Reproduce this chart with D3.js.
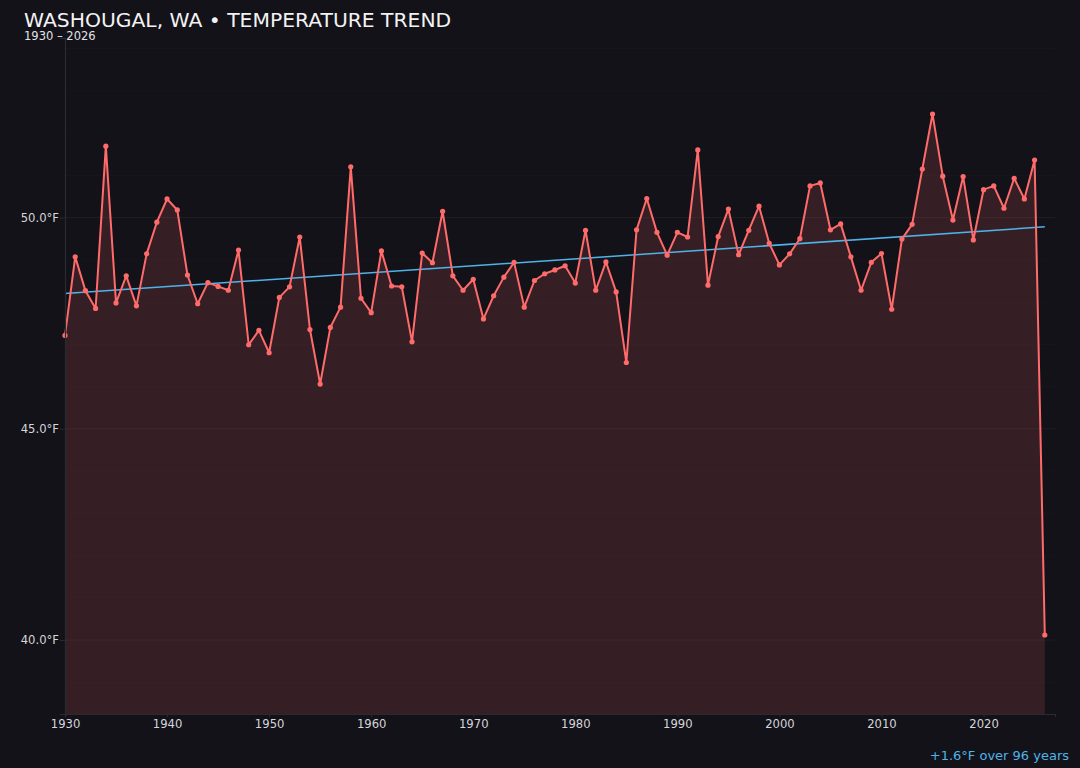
<!DOCTYPE html>
<html>
<head>
<meta charset="utf-8">
<script src="https://cdn.jsdelivr.net/npm/d3@7"></script>
<style>
  html, body { margin: 0; padding: 0; background: #131218; }
  svg { display: block; font-family: "DejaVu Sans", sans-serif; }
</style>
</head>
<body>
<div class="chart"></div>
<script>
// Annual mean temperature, Washougal WA (°F)
const years = [
  1930, 1931, 1932, 1933, 1934, 1935, 1936, 1937, 1938, 1939,
  1940, 1941, 1942, 1943, 1944, 1945, 1946, 1947, 1948, 1949,
  1950, 1951, 1952, 1953, 1954, 1955, 1956, 1957, 1958, 1959,
  1960, 1961, 1962, 1963, 1964, 1965, 1966, 1967, 1968, 1969,
  1970, 1971, 1972, 1973, 1974, 1975, 1976, 1977, 1978, 1979,
  1980, 1981, 1982, 1983, 1984, 1985, 1986, 1987, 1988, 1989,
  1990, 1991, 1992, 1993, 1994, 1995, 1996, 1997, 1998, 1999,
  2000, 2001, 2002, 2003, 2004, 2005, 2006, 2007, 2008, 2009,
  2010, 2011, 2012, 2013, 2014, 2015, 2016, 2017, 2018, 2019,
  2020, 2021, 2022, 2023, 2024, 2025, 2026
];
const temps = [
  47.21, 49.07, 48.27, 47.85, 51.69, 47.98, 48.62, 47.91, 49.14, 49.89,
  50.44, 50.18, 48.64, 47.96, 48.46, 48.37, 48.28, 49.23, 46.99, 47.33,
  46.80, 48.11, 48.36, 49.54, 47.35, 46.06, 47.40, 47.88, 51.20, 48.09,
  47.75, 49.21, 48.38, 48.36, 47.06, 49.16, 48.93, 50.15, 48.62, 48.28,
  48.54, 47.60, 48.15, 48.59, 48.94, 47.88, 48.51, 48.67, 48.76, 48.86,
  48.45, 49.70, 48.28, 48.95, 48.24, 46.57, 49.71, 50.45, 49.65, 49.11,
  49.65, 49.54, 51.60, 48.40, 49.55, 50.20, 49.12, 49.70, 50.27, 49.39,
  48.88, 49.14, 49.50, 50.75, 50.82, 49.71, 49.85, 49.07, 48.28, 48.94,
  49.15, 47.83, 49.49, 49.84, 51.15, 52.45, 50.98, 49.94, 50.97, 49.47,
  50.66, 50.75, 50.22, 50.93, 50.44, 51.36, 40.12
];
// Trend line end points (first year, last year)
const trendYears = [1930, 2026];
const trendTemps = [48.20, 49.78];

const yTicks = [40, 45, 50];
const xTicks = [1930, 1940, 1950, 1960, 1970, 1980, 1990, 2000, 2010, 2020];
const gridValues = [39, 40, 41, 42, 43, 44, 45, 46, 47, 48, 49, 50, 51, 52, 53, 54];

const titleText = "WASHOUGAL, WA • TEMPERATURE TREND";
const subtitleText = "1930 – 2026";
const noteText = "+1.6°F over 96 years";

const W = 1080, H = 768;
const margin = { top: 38, right: 25, bottom: 54, left: 65 };
const width = W - margin.left - margin.right;
const height = H - margin.top - margin.bottom;

const lineColor = "#ff6b6b";
const trendColor = "#4fb3ea";

const data = years.map((y, i) => ({ year: y, temp: temps[i] }));
const trend = trendYears.map((y, i) => ({ year: y, temp: trendTemps[i] }));

const svg = d3.select(".chart")
  .append("svg")
  .attr("width", W)
  .attr("height", H);

svg.append("rect")
  .attr("width", W)
  .attr("height", H)
  .attr("fill", "#131218");

const g = svg.append("g")
  .attr("transform", `translate(${margin.left},${margin.top})`);

// Scales
const x = d3.scaleLinear()
  .domain([1930, 2027])
  .range([0, width]);

const y = d3.scaleLinear()
  .domain([38.25, 54.25])
  .range([height, 0]);

// Grid lines, one per degree, a bit brighter on the labelled ones
g.append("g")
  .selectAll("line")
  .data(gridValues)
  .enter()
  .append("line")
  .attr("x1", 0)
  .attr("x2", width)
  .attr("y1", d => y(d))
  .attr("y2", d => y(d))
  .attr("stroke", "#ffffff")
  .attr("stroke-opacity", d => yTicks.includes(d) ? 0.05 : 0.02);

// Area under the line
const area = d3.area()
  .x(d => x(d.year))
  .y0(height)
  .y1(d => y(d.temp));

g.append("path")
  .datum(data)
  .attr("d", area)
  .attr("fill", lineColor)
  .attr("fill-opacity", 0.15);

// Trend line
const line = d3.line()
  .x(d => x(d.year))
  .y(d => y(d.temp));

g.append("path")
  .datum(trend)
  .attr("d", line)
  .attr("fill", "none")
  .attr("stroke", trendColor)
  .attr("stroke-width", 1.5);

// Temperature line + dots
g.append("path")
  .datum(data)
  .attr("d", line)
  .attr("fill", "none")
  .attr("stroke", lineColor)
  .attr("stroke-width", 2)
  .attr("stroke-linejoin", "round");

g.append("g")
  .selectAll("circle")
  .data(data)
  .enter()
  .append("circle")
  .attr("cx", d => x(d.year))
  .attr("cy", d => y(d.temp))
  .attr("r", 2.6)
  .attr("fill", lineColor);

// Axes
const xAxis = d3.axisBottom(x)
  .tickValues(xTicks)
  .tickFormat(d3.format("d"))
  .tickSize(3)
  .tickPadding(3);

const gx = g.append("g")
  .attr("transform", `translate(0,${height})`)
  .call(xAxis);

const yAxis = d3.axisLeft(y)
  .tickValues(yTicks)
  .tickFormat(d => d.toFixed(1) + "°F")
  .tickSize(5)
  .tickPadding(1);

const gy = g.append("g").call(yAxis);

[gx, gy].forEach(ax => {
  ax.select(".domain").attr("stroke", "#2a2a31").attr("stroke-width", 1.2);
  ax.selectAll(".tick line").attr("stroke", "#2a2a31");
  ax.selectAll("text")
    .attr("fill", "#d6d6dc")
    .style("font-size", "11.6px")
    .style("font-family", "'DejaVu Sans', sans-serif");
});

// Titles
svg.append("text")
  .attr("x", 24)
  .attr("y", 27)
  .attr("fill", "#f2f2f4")
  .style("font-size", "20.3px")
  .text(titleText);

svg.append("text")
  .attr("x", 24)
  .attr("y", 39.5)
  .attr("fill", "#e2e2e6")
  .style("font-size", "11.5px")
  .text(subtitleText);

// Trend note
svg.append("text")
  .attr("x", 1069)
  .attr("y", 760)
  .attr("text-anchor", "end")
  .attr("fill", trendColor)
  .style("font-size", "13px")
  .text(noteText);
</script>
</body>
</html>
